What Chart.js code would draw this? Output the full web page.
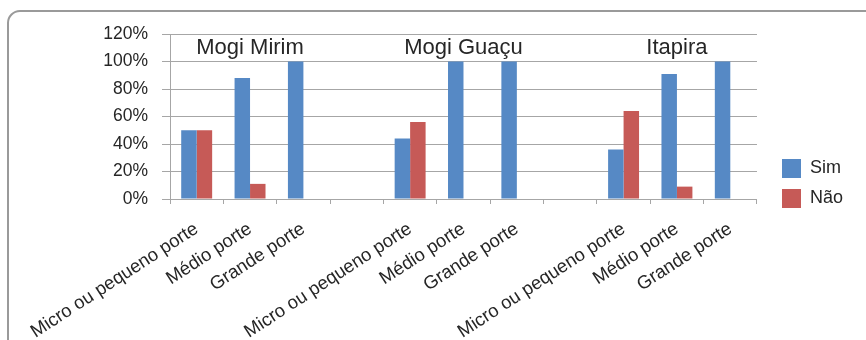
<!DOCTYPE html>
<html><head><meta charset="utf-8">
<script src="https://cdn.jsdelivr.net/npm/chart.js@4/dist/chart.umd.min.js"></script>
<style>html,body{margin:0;padding:0;background:#fff}#wrap{width:866px;height:340px;position:relative}</style>
</head><body><div id="wrap"><canvas id="c" width="866" height="340"></canvas></div>
<script>
const categories = ["Micro ou pequeno porte","Médio porte","Grande porte","","Micro ou pequeno porte","Médio porte","Grande porte","","Micro ou pequeno porte","Médio porte","Grande porte"];
const simValues = [50, 88, 100, null, 44, 100, 100, null, 36, 91, 100];
const naoValues = [50, 11, 0, null, 56, 0, 0, null, 64, 9, 0];
const seriesNames = ["Sim", "Não"];
const yTickValues = [0, 20, 40, 60, 80, 100, 120];
const groupNames = ["Mogi Mirim", "Mogi Guaçu", "Itapira"];
const groupCenterIndex = [1, 5, 9];

const FONT = "'Liberation Sans', Arial, Helvetica, sans-serif";
const TEXT = '#262626';
const GRID = '#a6a6a6';
Chart.defaults.font.family = FONT;
Chart.defaults.color = TEXT;

const frame = {
  id: 'frame',
  beforeDraw(chart) {
    const c = chart.ctx;
    c.save();
    c.fillStyle = '#fff';
    c.fillRect(0, 0, chart.width, chart.height);
    c.strokeStyle = '#9a9a9a';
    c.lineWidth = 2;
    const x = 8, y = 11, w = 900, h = 400, r = 12;
    c.beginPath();
    c.moveTo(x + r, y);
    c.lineTo(x + w, y);
    c.lineTo(x + w, y + h);
    c.lineTo(x, y + h);
    c.lineTo(x, y + r);
    c.arcTo(x, y, x + r, y, r);
    c.stroke();
    c.restore();
  }
};

const groupLabels = {
  id: 'groupLabels',
  afterDatasetsDraw(chart) {
    const c = chart.ctx, xs = chart.scales.x;
    c.save();
    c.font = "22px " + FONT;
    c.fillStyle = TEXT;
    c.textAlign = 'center';
    c.textBaseline = 'alphabetic';
    groupNames.forEach((g, i) => {
      c.fillText(g, xs.getPixelForValue(groupCenterIndex[i]), 54);
    });
    c.restore();
  }
};

const legendPlace = {
  id: 'legendPlace',
  afterLayout(chart) {
    const lg = chart.legend;
    if (!lg) return;
    const dx = 771 - lg.left;
    lg.left += dx; lg.right += dx;
    const dy = (367 - (lg.top + lg.bottom)) / 2;
    lg.top += dy; lg.bottom += dy;
  }
};

new Chart(document.getElementById('c'), {
  type: 'bar',
  data: {
    labels: categories,
    datasets: [
      { label: seriesNames[0], data: simValues, backgroundColor: '#5689c5' },
      { label: seriesNames[1], data: naoValues, backgroundColor: '#c65a57' }
    ]
  },
  options: {
    responsive: false,
    animation: false,
    devicePixelRatio: 1,
    layout: { padding: { left: 0, top: 34, right: 27, bottom: 0 } },
    datasets: { bar: { categoryPercentage: 0.58, barPercentage: 1.0 } },
    plugins: {
      legend: {
        position: 'right',
        labels: { boxWidth: 19, boxHeight: 19, padding: 11, font: { size: 18 }, color: TEXT }
      },
      tooltip: { enabled: false }
    },
    scales: {
      x: {
        afterFit(s) { s.height = 141; },
        grid: { drawOnChartArea: false, drawTicks: true, tickLength: 5, color: GRID },
        border: { color: GRID },
        ticks: { autoSkip: false, maxRotation: 33, minRotation: 33, padding: 14, font: { size: 18.5 }, color: TEXT }
      },
      y: {
        min: 0, max: 120,
        afterFit(s) { s.width = 170; },
        afterBuildTicks(s) { s.ticks = yTickValues.map(v => ({ value: v })); },
        grid: { color: GRID, tickLength: 8 },
        border: { color: GRID },
        ticks: { padding: 14, font: { size: 17.5 }, color: TEXT, callback: v => v + '%' }
      }
    }
  },
  plugins: [frame, groupLabels, legendPlace]
});
</script>
</body></html>
